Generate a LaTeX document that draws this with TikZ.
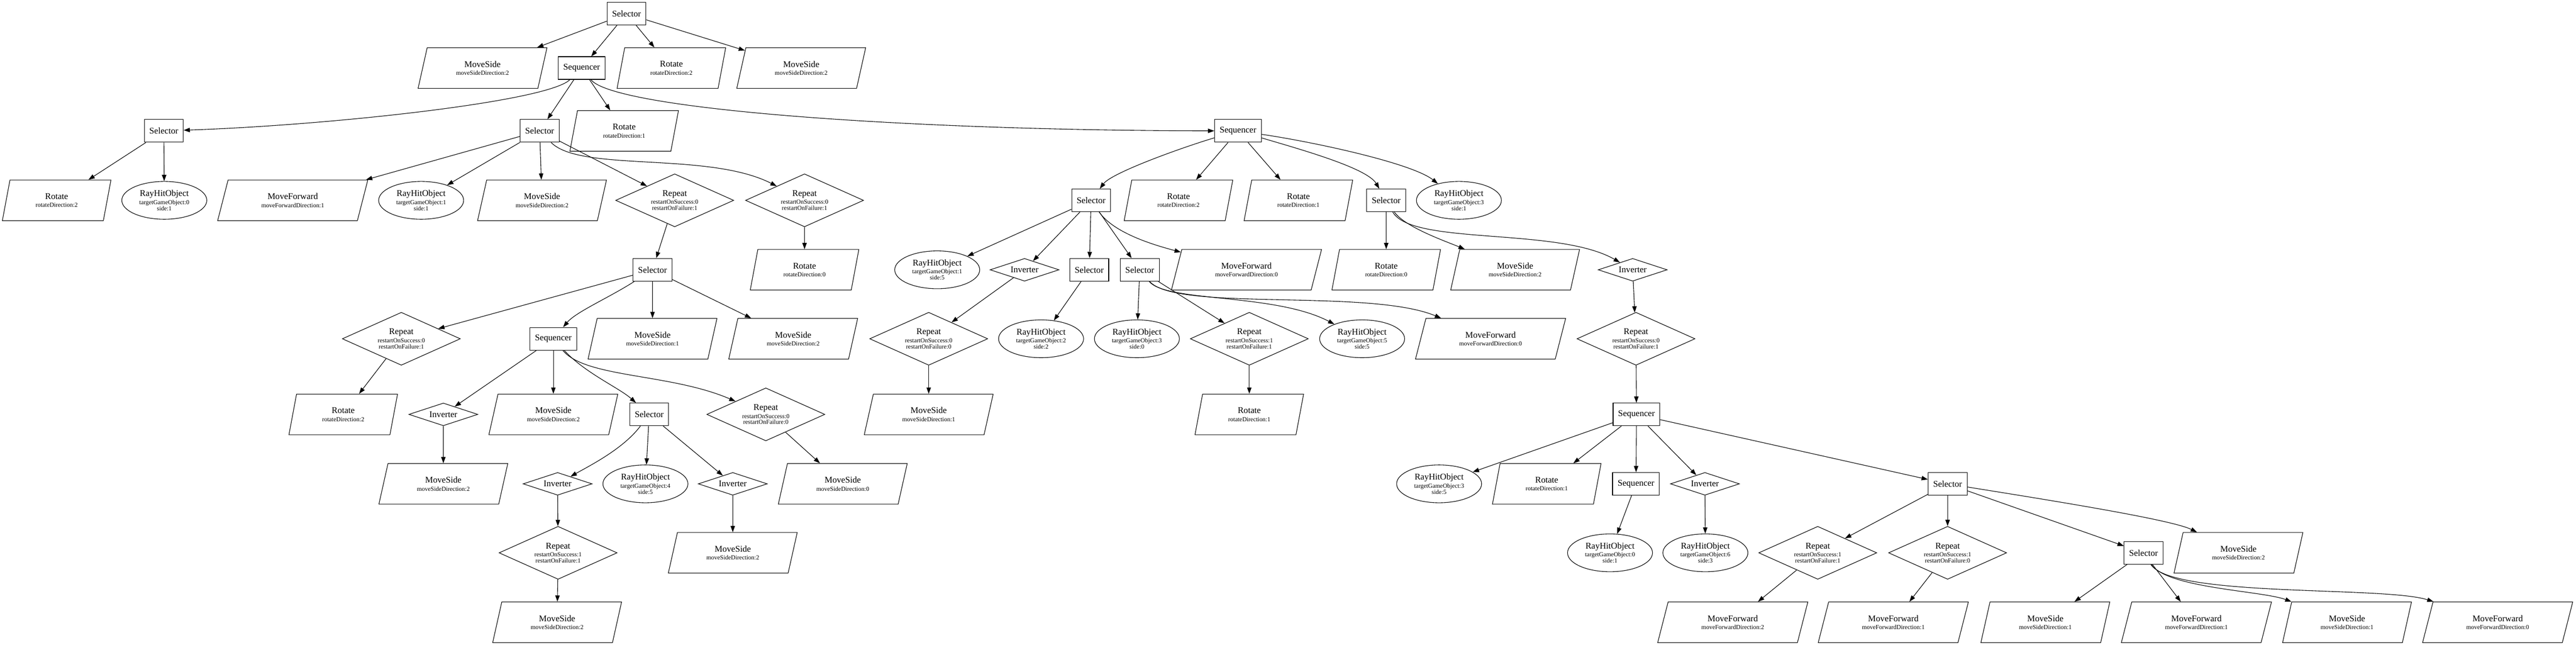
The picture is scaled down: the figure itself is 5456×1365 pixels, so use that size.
\documentclass[tikz,border=0pt]{standalone}
\usepackage{fontspec}
\setmainfont{Liberation Serif}
\usetikzlibrary{shapes.geometric,arrows.meta}
\newcommand\subl[1]{{\fontsize{9.8}{9.8}\selectfont #1}}
\newcommand\lMS[1]{MoveSide\\\subl{moveSideDirection:#1}}
\newcommand\lMF[1]{MoveForward\\\subl{moveForwardDirection:#1}}
\newcommand\lRO[1]{Rotate\\\subl{rotateDirection:#1}}
\newcommand\lRH[2]{RayHitObject\\\subl{targetGameObject:#1}\\[-3pt]\subl{side:#2}}
\newcommand\lRP[2]{Repeat\\\subl{restartOnSuccess:#1}\\[-3pt]\subl{restartOnFailure:#2}}
\begin{document}
\begin{tikzpicture}[x=0.75pt,y=-0.75pt,
 every node/.style={draw, line width=0.9pt, font=\fontsize{14}{12.75}\selectfont, align=center},
 boxn/.style={rectangle, minimum height=36pt, inner xsep=8pt, inner ysep=0pt},
 para/.style={trapezium, trapezium stretches body, minimum height=64.5pt, inner sep=0pt},
 rotn/.style={para, trapezium left angle=61.3, trapezium right angle=118.7, minimum width=172.5pt},
 msn/.style={para, trapezium left angle=57.4, trapezium right angle=122.6, minimum width=204.75pt},
 mfn/.style={para, trapezium left angle=53.8, trapezium right angle=126.2, minimum width=238.5pt},
 rhn/.style={ellipse, minimum width=135pt, minimum height=60pt, inner sep=0pt},
 rpn/.style={diamond, aspect=2.23, minimum width=187.5pt, minimum height=84pt, inner sep=0pt},
 invn/.style={diamond, aspect=3.04, minimum width=109.5pt, minimum height=36pt, inner sep=0pt},
 arr/.style={draw, line width=0.9pt, -{Triangle[length=10pt,width=7pt]}}
]
\fill[white] (0,0) rectangle (5456,1365);
\useasboundingbox (0,0) rectangle (5456,1365);
% level 0-1
\node[boxn] (root) at (1327,29) {Selector};
\node[msn] (ms0a) at (1022,144) {\lMS{2}};
\node[boxn] (seq1) at (1232,144) {Sequencer};
\node[rotn] (rot0) at (1422,144) {\lRO{2}};
\node[msn] (ms0b) at (1697,144) {\lMS{2}};
% level 2
\node[boxn] (selL) at (347,277) {Selector};
\node[boxn] (sel2) at (1143,277) {Selector};
\node[rotn] (rot1) at (1322,277) {\lRO{1}};
\node[boxn] (seqR) at (2622,277) {Sequencer};
% level 3
\node[rotn] (rot2) at (120,424) {\lRO{2}};
\node[rhn] (rh0) at (348,424) {\lRH{0}{1}};
\node[mfn] (mf1) at (620,424) {\lMF{1}};
\node[rhn] (rh1) at (892,424) {\lRH{1}{1}};
\node[msn] (ms1) at (1148,424) {\lMS{2}};
\node[rpn] (rp1) at (1429,424) {\lRP{0}{1}};
\node[rpn] (rp2) at (1704,424) {\lRP{0}{1}};
\node[boxn] (selA) at (2311,424) {Selector};
\node[rotn] (rot3) at (2496,424) {\lRO{2}};
\node[rotn] (rot4) at (2750,424) {\lRO{1}};
\node[boxn] (selB) at (2936,424) {Selector};
\node[rhn] (rh2) at (3090,424) {\lRH{3}{1}};
% level 4
\node[boxn] (selC) at (1382,571) {Selector};
\node[rotn] (rot5) at (1704,571) {\lRO{0}};
\node[rhn] (rh3) at (1985,571) {\lRH{1}{5}};
\node[invn] (invA) at (2170,571) {Inverter};
\node[boxn] (selA1) at (2307,571) {Selector};
\node[boxn] (selA2) at (2414,571) {Selector};
\node[mfn] (mf2) at (2640,571) {\lMF{0}};
\node[rotn] (rot6) at (2936,571) {\lRO{0}};
\node[msn] (ms2) at (3209,571) {\lMS{2}};
\node[invn] (invB) at (3458,571) {Inverter};
% level 5
\node[rpn] (rp3) at (850,717) {\lRP{0}{1}};
\node[boxn] (seqC) at (1172,717) {Sequencer};
\node[msn] (ms3) at (1382,717) {\lMS{1}};
\node[msn] (ms4) at (1680,717) {\lMS{2}};
\node[rpn] (rp4) at (1967,717) {\lRP{0}{0}};
\node[rhn] (rh4) at (2205,717) {\lRH{2}{2}};
\node[rhn] (rh5) at (2408,717) {\lRH{3}{0}};
\node[rpn] (rp5) at (2646,717) {\lRP{1}{1}};
\node[rhn] (rh6) at (2885,717) {\lRH{5}{5}};
\node[mfn] (mf3) at (3157,717) {\lMF{0}};
\node[rpn] (rp6) at (3465,717) {\lRP{0}{1}};
% level 6
\node[rotn] (rot7) at (727,877) {\lRO{2}};
\node[invn] (invC) at (939,877) {Inverter};
\node[msn] (ms5) at (1172,877) {\lMS{2}};
\node[boxn] (selD) at (1375,877) {Selector};
\node[rpn] (rp7) at (1622,877) {\lRP{0}{0}};
\node[msn] (ms6) at (1967,877) {\lMS{1}};
\node[rotn] (rot8) at (2646,877) {\lRO{1}};
\node[boxn] (seqD) at (3466,877) {Sequencer};
% level 7
\node[msn] (ms7) at (939,1024) {\lMS{2}};
\node[invn] (invD) at (1181,1024) {Inverter};
\node[rhn] (rh7) at (1367,1024) {\lRH{4}{5}};
\node[invn] (invE) at (1552,1024) {Inverter};
\node[msn] (ms8) at (1785,1024) {\lMS{0}};
\node[rhn] (rh8) at (3048,1024) {\lRH{3}{5}};
\node[rotn] (rot9) at (3276,1024) {\lRO{1}};
\node[boxn] (seqE) at (3465,1024) {Sequencer};
\node[invn] (invF) at (3611,1024) {Inverter};
\node[boxn] (selE) at (4125,1024) {Selector};
% level 8
\node[rpn] (rp8) at (1182,1170) {\lRP{1}{1}};
\node[msn] (ms9) at (1552,1170) {\lMS{2}};
\node[rhn] (rh9) at (3410,1170) {\lRH{0}{1}};
\node[rhn] (rh10) at (3612,1170) {\lRH{6}{3}};
\node[rpn] (rp9) at (3850,1170) {\lRP{1}{1}};
\node[rpn] (rp10) at (4125,1170) {\lRP{1}{0}};
\node[boxn] (selF) at (4540,1170) {Selector};
\node[msn] (ms10) at (4741,1170) {\lMS{2}};
% level 9
\node[msn] (ms11) at (1180,1317) {\lMS{2}};
\node[mfn] (mf4) at (3670,1317) {\lMF{2}};
\node[mfn] (mf5) at (4010,1317) {\lMF{1}};
\node[msn] (ms12) at (4332,1317) {\lMS{1}};
\node[mfn] (mf6) at (4652,1317) {\lMF{1}};
\node[msn] (ms13) at (4971,1317) {\lMS{1}};
\node[mfn] (mf7) at (5290,1317) {\lMF{0}};
% edges
\path[arr] (root) -- (ms0a);
\path[arr] (root) -- (seq1);
\path[arr] (root) -- (rot0);
\path[arr] (root) -- (ms0b);
\path[arr] (seq1) .. controls (1160,215) and (700,265) .. (selL);
\path[arr] (seq1) -- (sel2);
\path[arr] (seq1) -- (rot1);
\path[arr] (seq1) .. controls (1300,230) and (1900,276) .. (seqR);
\path[arr] (selL) -- (rot2);
\path[arr] (selL) -- (rh0);
\path[arr] (sel2) -- (mf1);
\path[arr] (sel2) -- (rh1);
\path[arr] (sel2) -- (ms1);
\path[arr] (sel2) -- (rp1);
\path[arr] (sel2) .. controls (1230,365) and (1500,320) .. (rp2);
\path[arr] (rp1) -- (selC);
\path[arr] (rp2) -- (rot5);
\path[arr] (selC) -- (rp3);
\path[arr] (selC) .. controls (1290,630) and (1220,660) .. (seqC);
\path[arr] (selC) -- (ms3);
\path[arr] (selC) -- (ms4);
\path[arr] (rp3) -- (rot7);
\path[arr] (seqC) -- (invC);
\path[arr] (seqC) -- (ms5);
\path[arr] (seqC) .. controls (1240,790) and (1310,820) .. (selD);
\path[arr] (seqC) .. controls (1240,800) and (1420,790) .. (rp7);
\path[arr] (invC) -- (ms7);
\path[arr] (selD) .. controls (1320,950) and (1250,985) .. (invD);
\path[arr] (selD) -- (rh7);
\path[arr] (selD) -- (invE);
\path[arr] (invD) -- (rp8);
\path[arr] (rp8) -- (ms11);
\path[arr] (invE) -- (ms9);
\path[arr] (rp7) -- (ms8);
\path[arr] (seqR) .. controls (2510,310) and (2355,365) .. (selA);
\path[arr] (seqR) -- (rot3);
\path[arr] (seqR) -- (rot4);
\path[arr] (seqR) .. controls (2750,315) and (2895,355) .. (selB);
\path[arr] (seqR) .. controls (2780,300) and (2990,345) .. (rh2);
\path[arr] (selA) -- (rh3);
\path[arr] (selA) -- (invA);
\path[arr] (selA) -- (selA1);
\path[arr] (selA) -- (selA2);
\path[arr] (selA) .. controls (2360,495) and (2450,520) .. (mf2);
\path[arr] (invA) -- (rp4);
\path[arr] (rp4) -- (ms6);
\path[arr] (selA1) -- (rh4);
\path[arr] (selA2) -- (rh5);
\path[arr] (selA2) -- (rp5);
\path[arr] (selA2) .. controls (2470,640) and (2700,620) .. (rh6);
\path[arr] (selA2) .. controls (2490,660) and (2900,610) .. (mf3);
\path[arr] (rp5) -- (rot8);
\path[arr] (selB) -- (rot6);
\path[arr] (selB) .. controls (2975,480) and (3060,510) .. (ms2);
\path[arr] (selB) .. controls (2990,520) and (3300,480) .. (invB);
\path[arr] (invB) -- (rp6);
\path[arr] (rp6) -- (seqD);
\path[arr] (seqD) -- (rh8);
\path[arr] (seqD) -- (rot9);
\path[arr] (seqD) -- (seqE);
\path[arr] (seqD) -- (invF);
\path[arr] (seqD) -- (selE);
\path[arr] (seqE) -- (rh9);
\path[arr] (invF) -- (rh10);
\path[arr] (selE) -- (rp9);
\path[arr] (selE) -- (rp10);
\path[arr] (selE) -- (selF);
\path[arr] (selE) .. controls (4350,1060) and (4600,1100) .. (ms10);
\path[arr] (rp9) -- (mf4);
\path[arr] (rp10) -- (mf5);
\path[arr] (selF) -- (ms12);
\path[arr] (selF) -- (mf6);
\path[arr] (selF) .. controls (4590,1245) and (4790,1250) .. (ms13);
\path[arr] (selF) .. controls (4600,1265) and (5050,1240) .. (mf7);
\end{tikzpicture}
\end{document}
